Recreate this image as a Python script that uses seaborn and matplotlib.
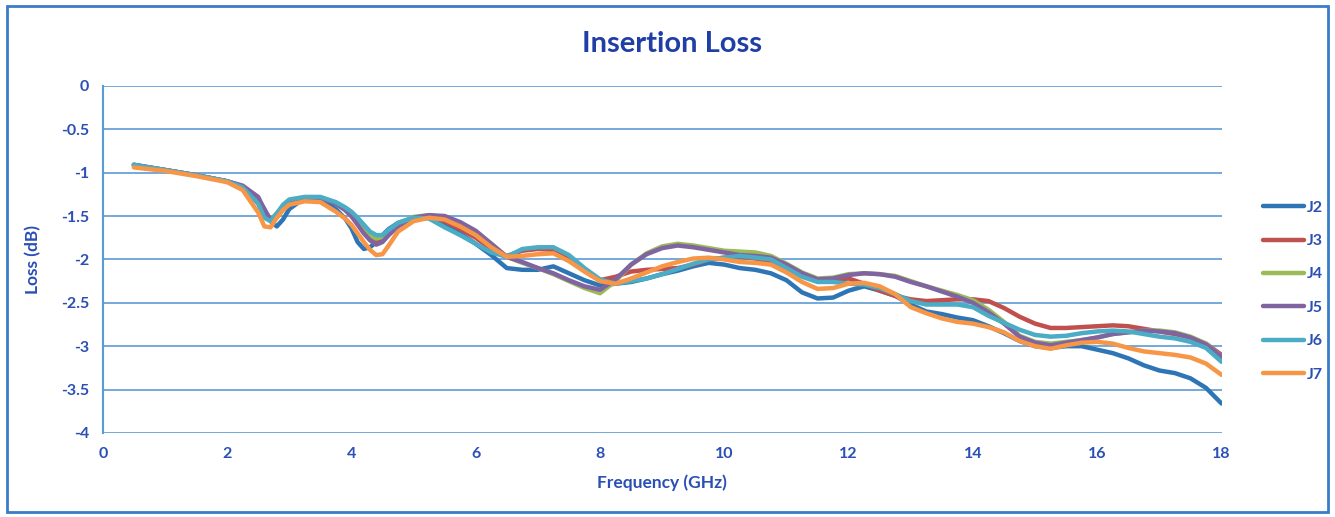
import numpy as np
import pandas as pd
import seaborn as sns
import matplotlib.pyplot as plt
from matplotlib.patches import Rectangle

freq = [0.5, 1.0, 1.5, 2.0, 2.25, 2.5, 2.6, 2.7, 2.8, 2.9, 3.0, 3.25, 3.5, 3.75,
        3.9, 4.0, 4.1, 4.2, 4.3, 4.4, 4.5, 4.6, 4.75, 5.0, 5.25, 5.5, 5.75, 6.0,
        6.25, 6.5, 6.75, 7.0, 7.25, 7.5, 7.75, 8.0, 8.25, 8.5, 8.75, 9.0, 9.25,
        9.5, 9.75, 10.0, 10.25, 10.5, 10.75, 11.0, 11.25, 11.5, 11.75, 12.0,
        12.25, 12.5, 12.75, 13.0, 13.25, 13.5, 13.75, 14.0, 14.25, 14.5, 14.75,
        15.0, 15.25, 15.5, 15.75, 16.0, 16.25, 16.5, 16.75, 17.0, 17.25, 17.5,
        17.75, 18.0]

j2 = [-0.91, -0.97, -1.03, -1.10, -1.16, -1.30, -1.42, -1.56, -1.62, -1.54, -1.42, -1.29, -1.30, -1.42,
      -1.53, -1.64, -1.80, -1.88, -1.86, -1.80, -1.72, -1.65, -1.58, -1.52, -1.51, -1.60, -1.70, -1.82,
      -1.95, -2.10, -2.12, -2.12, -2.08, -2.16, -2.24, -2.30, -2.28, -2.26, -2.22, -2.17, -2.13,
      -2.08, -2.04, -2.06, -2.10, -2.12, -2.16, -2.24, -2.38, -2.45, -2.44, -2.36,
      -2.31, -2.36, -2.42, -2.52, -2.60, -2.63, -2.67, -2.70, -2.77, -2.85, -2.94,
      -3.00, -3.02, -3.00, -3.00, -3.04, -3.08, -3.14, -3.22, -3.28, -3.31, -3.37,
      -3.48, -3.66]
j3 = [-0.92, -0.97, -1.03, -1.10, -1.16, -1.32, -1.47, -1.55, -1.51, -1.42, -1.34, -1.29, -1.29, -1.35,
      -1.43, -1.50, -1.58, -1.66, -1.73, -1.78, -1.76, -1.68, -1.60, -1.52, -1.50, -1.56, -1.65, -1.75,
      -1.88, -1.96, -1.90, -1.88, -1.89, -1.98, -2.12, -2.24, -2.20, -2.14, -2.12, -2.11, -2.10,
      -2.06, -2.00, -1.98, -1.97, -1.99, -2.03, -2.10, -2.18, -2.24, -2.24, -2.22,
      -2.28, -2.36, -2.42, -2.46, -2.48, -2.47, -2.46, -2.46, -2.48, -2.56, -2.66,
      -2.74, -2.79, -2.79, -2.78, -2.77, -2.76, -2.77, -2.80, -2.83, -2.86, -2.90,
      -2.97, -3.10]
j4 = [-0.92, -0.97, -1.03, -1.10, -1.16, -1.32, -1.47, -1.54, -1.47, -1.39, -1.33, -1.29, -1.29, -1.35,
      -1.42, -1.48, -1.56, -1.64, -1.72, -1.76, -1.74, -1.67, -1.59, -1.51, -1.49, -1.52, -1.58, -1.68,
      -1.82, -1.97, -2.04, -2.10, -2.17, -2.25, -2.33, -2.39, -2.25, -2.06, -1.93, -1.85, -1.82,
      -1.84, -1.87, -1.90, -1.91, -1.92, -1.96, -2.05, -2.15, -2.22, -2.21, -2.17,
      -2.16, -2.17, -2.19, -2.25, -2.31, -2.36, -2.41, -2.47, -2.58, -2.72, -2.88,
      -2.95, -2.97, -2.95, -2.93, -2.90, -2.86, -2.84, -2.82, -2.82, -2.84, -2.89,
      -2.97, -3.12]
j5 = [-0.91, -0.97, -1.03, -1.10, -1.15, -1.28, -1.43, -1.54, -1.51, -1.42, -1.34, -1.29, -1.29, -1.36,
      -1.43, -1.50, -1.60, -1.70, -1.78, -1.83, -1.80, -1.72, -1.62, -1.52, -1.49, -1.50, -1.57, -1.67,
      -1.82, -1.97, -2.03, -2.10, -2.16, -2.24, -2.31, -2.35, -2.23, -2.06, -1.94, -1.87, -1.84,
      -1.86, -1.89, -1.92, -1.95, -1.96, -1.98, -2.06, -2.16, -2.23, -2.22, -2.18,
      -2.16, -2.17, -2.20, -2.26, -2.31, -2.37, -2.43, -2.50, -2.61, -2.74, -2.89,
      -2.96, -2.99, -2.96, -2.93, -2.90, -2.86, -2.84, -2.82, -2.83, -2.85, -2.90,
      -2.98, -3.12]
j6 = [-0.91, -0.97, -1.03, -1.10, -1.17, -1.36, -1.52, -1.56, -1.47, -1.37, -1.31, -1.28, -1.28, -1.34,
      -1.40, -1.45, -1.52, -1.60, -1.68, -1.72, -1.72, -1.66, -1.58, -1.52, -1.53, -1.63, -1.72, -1.82,
      -1.92, -1.97, -1.88, -1.86, -1.86, -1.95, -2.10, -2.23, -2.28, -2.25, -2.22, -2.17, -2.11,
      -2.05, -2.00, -1.98, -1.96, -1.98, -2.00, -2.10, -2.20, -2.26, -2.26, -2.28,
      -2.29, -2.33, -2.40, -2.48, -2.52, -2.52, -2.52, -2.55, -2.65, -2.73, -2.81,
      -2.87, -2.89, -2.88, -2.85, -2.83, -2.82, -2.83, -2.86, -2.89, -2.91, -2.95,
      -3.02, -3.18]
j7 = [-0.94, -0.98, -1.04, -1.11, -1.20, -1.46, -1.62, -1.63, -1.52, -1.43, -1.37, -1.33, -1.34, -1.45,
      -1.53, -1.60, -1.70, -1.80, -1.89, -1.95, -1.94, -1.84, -1.68, -1.56, -1.52, -1.54, -1.62, -1.72,
      -1.86, -1.97, -1.96, -1.94, -1.93, -2.02, -2.14, -2.25, -2.28, -2.22, -2.15, -2.08, -2.03,
      -1.99, -1.98, -2.00, -2.03, -2.04, -2.06, -2.15, -2.26, -2.34, -2.33, -2.28,
      -2.27, -2.31, -2.40, -2.55, -2.62, -2.68, -2.72, -2.74, -2.78, -2.84, -2.94,
      -3.00, -3.03, -2.99, -2.96, -2.95, -2.97, -3.02, -3.06, -3.08, -3.10, -3.13,
      -3.20, -3.33]

series_names = ["J2", "J3", "J4", "J5", "J6", "J7"]
colors = ["#2E75B6", "#C0504D", "#9BBB59", "#8064A2", "#4BACC6", "#F79646"]

df = pd.DataFrame({"freq": freq, "J2": j2, "J3": j3, "J4": j4,
                   "J5": j5, "J6": j6, "J7": j7})
long = df.melt(id_vars="freq", var_name="series", value_name="loss")

sns.set_theme(style="white")
plt.rcParams["font.family"] = ["Lato", "DejaVu Sans"]

blue = "#2A4FB5"
grid_blue = "#5B9BD5"

fig = plt.figure(figsize=(13.35, 5.17), dpi=100)
ax = fig.add_axes([0.077, 0.1625, 0.838, 0.6715])

sns.lineplot(data=long, x="freq", y="loss", hue="series",
             hue_order=series_names, palette=colors, linewidth=3.2,
             sort=False, ax=ax, legend=False)

ax.set_xlim(0, 18)
ax.set_ylim(-4, 0)
ax.set_xticks(np.arange(0, 19, 2))
ax.set_yticks(np.arange(-4, 0.01, 0.5))
ax.set_yticklabels(["-4", "-3.5", "-3", "-2.5", "-2", "-1.5", "-1", "-0.5", "0"])
ax.yaxis.grid(True, color=grid_blue, linewidth=1.2)
ax.set_axisbelow(True)
for side in ["top", "right", "bottom"]:
    ax.spines[side].set_visible(False)
ax.spines["left"].set_color(grid_blue)
ax.spines["left"].set_linewidth(1.5)
ax.tick_params(axis="both", length=0, labelsize=11.5, labelcolor=blue, pad=10)
for lab in ax.get_xticklabels() + ax.get_yticklabels():
    lab.set_fontweight("bold")

ax.set_xlabel("Frequency (GHz)", fontsize=12.5, fontweight="bold", color=blue, labelpad=10)
ax.set_ylabel("Loss (dB)", fontsize=12.5, fontweight="bold", color=blue, labelpad=14)
fig.text(0.503, 0.915, "Insertion Loss", ha="center", va="center",
         fontsize=21, fontweight="bold", color="#1F3FA6")

# legend drawn at the right side like the original
handles = [plt.Line2D([], [], color=c, linewidth=3.2) for c in colors]
fig.legend(handles, series_names, loc="center left", bbox_to_anchor=(0.935, 0.437),
           frameon=False, handlelength=2.6, labelspacing=1.2, handletextpad=0.2,
           prop={"size": 11.5, "weight": "bold"}, labelcolor=blue)

fig.patches.append(Rectangle((0.005, 0.01), 0.99, 0.978, transform=fig.transFigure,
                             fill=False, edgecolor="#3A7CC8", linewidth=2))

fig.savefig("out.png", dpi=100)
plt.close(fig)
